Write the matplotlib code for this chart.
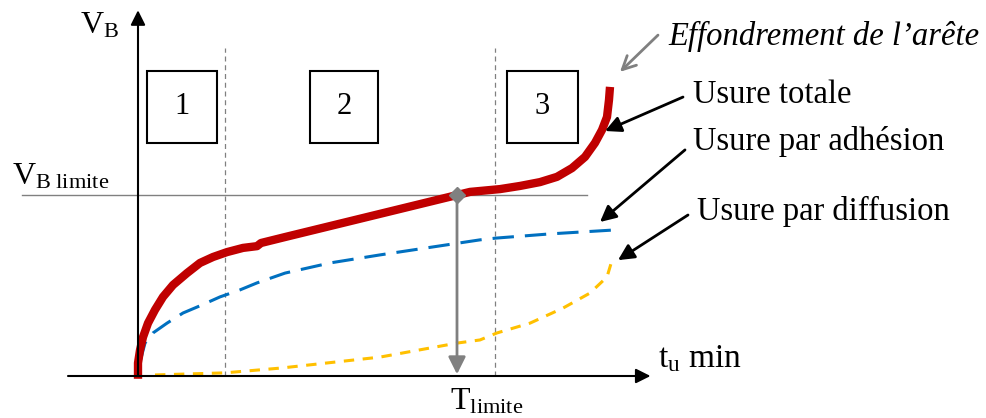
import numpy as np
import matplotlib
matplotlib.use("Agg")
import matplotlib.pyplot as plt
from matplotlib.patches import Rectangle

plt.rcParams['font.family'] = ['Liberation Serif', 'DejaVu Serif']
plt.rcParams['mathtext.fontset'] = 'custom'
plt.rcParams['mathtext.rm'] = 'Liberation Serif'
plt.rcParams['mathtext.it'] = 'Liberation Serif:italic'

# usure totale (t, VB)
t_totale = [0.00, 0.00, 0.04, 0.10, 0.20, 0.34, 0.50, 0.70, 0.98, 1.24, 1.50,
            1.78, 2.10, 2.38, 2.46, 2.94, 6.38, 6.64, 7.24, 7.64, 8.04, 8.38,
            8.68, 8.94, 9.14, 9.28, 9.38, 9.42, 9.44]
vb_totale = [-0.08, 0.37, 0.74, 1.11, 1.51, 1.89, 2.26, 2.60, 2.94, 3.23, 3.40,
             3.54, 3.66, 3.71, 3.80, 3.97, 5.17, 5.26, 5.34, 5.43, 5.54, 5.69,
             5.94, 6.26, 6.66, 7.03, 7.40, 7.89, 8.26]

# usure par adhesion
t_adh = [0.04, 0.14, 0.30, 0.58, 0.90, 1.28, 1.64, 2.04, 2.38, 2.94, 3.84,
         4.84, 6.84, 7.16, 8.24, 9.50]
vb_adh = [0.40, 0.94, 1.23, 1.51, 1.80, 2.03, 2.26, 2.46, 2.66, 2.94, 3.23,
          3.46, 3.89, 3.94, 4.06, 4.17]

# usure par diffusion
t_diff = [0.34, 1.74, 2.88, 4.84, 6.38, 6.84, 7.18, 7.84, 8.50, 9.04, 9.38, 9.50]
vb_diff = [0.03, 0.09, 0.23, 0.54, 0.94, 1.03, 1.23, 1.51, 1.94, 2.37, 2.83, 3.40]

vb_limite = 5.17
t_limite = 6.38
zones = ['1', '2', '3']
zone_bounds = [1.74, 7.14]

red = '#C00000'
blue = '#0070C0'
yellow = '#FFC000'
grey = '#808080'

fig = plt.figure(figsize=(9.86, 4.18), dpi=100)
ax = fig.add_axes([0, 0, 1, 1])
ax.set_xlim(-2.76, 16.96)
ax.set_ylim(-1.2, 376 / 35)
ax.axis('off')

# axes with arrows
ax.annotate('', xy=(10.25, 0), xytext=(-1.4, 0),
            arrowprops=dict(arrowstyle='-|>', color='black', lw=1.5,
                            mutation_scale=22, shrinkA=0, shrinkB=0))
ax.annotate('', xy=(0, 10.45), xytext=(0, 0),
            arrowprops=dict(arrowstyle='-|>', color='black', lw=1.5,
                            mutation_scale=22, shrinkA=0, shrinkB=0))

# VB limite line and zone dividers
ax.plot([-2.32, 8.98], [vb_limite, vb_limite], color=grey, lw=1)
for xb in zone_bounds:
    ax.plot([xb, xb], [0, 9.37], color=grey, lw=0.9, dashes=(4, 3))

# zone boxes
box_x = [(0.18, 1.58), (3.44, 4.80), (7.38, 8.80)]
for lab, (x0, x1) in zip(zones, box_x):
    ax.add_patch(Rectangle((x0, 6.66), x1 - x0, 2.06, fill=False,
                           edgecolor='black', lw=1.5))
    ax.text((x0 + x1) / 2, 7.69, lab, ha='center', va='center', fontsize=22)

# curves
ax.plot(t_diff, vb_diff, color=yellow, lw=2.2, dashes=(3.4, 2.8))
ax.plot(t_adh, vb_adh, color=blue, lw=2.2, dashes=(7, 3.6))
ax.plot(t_totale, vb_totale, color=red, lw=6, solid_capstyle='butt',
        solid_joinstyle='round')

# T limite arrow and marker
ax.annotate('', xy=(t_limite, 0.05), xytext=(t_limite, vb_limite),
            arrowprops=dict(arrowstyle='-|>', color=grey, lw=2,
                            mutation_scale=26, shrinkA=0, shrinkB=0))
ax.plot([t_limite], [vb_limite], marker='D', color=grey, markersize=8)

# labels
ax.text(-1.16, 9.8, r'$\mathrm{V}_{\mathrm{B}}$', fontsize=23, ha='left',
        va='baseline')
ax.text(-2.52, 5.48, r'$\mathrm{V}_{\mathrm{B\ limite}}$', fontsize=23,
        ha='left', va='baseline')
ax.text(6.24, -0.95, r'$\mathrm{T}_{\mathrm{limite}}$', fontsize=23,
        ha='left', va='baseline')
ax.text(10.40, 0.26, r'$\mathrm{t}_{\mathrm{u}}\ \mathrm{min}$', fontsize=24,
        ha='left', va='baseline')

ax.text(10.6, 9.46, 'Effondrement de l\u2019ar\u00eate', fontsize=23.5,
        style='italic', ha='left', va='baseline')
ax.text(11.1, 7.80, 'Usure totale', fontsize=23.5, ha='left', va='baseline')
ax.text(11.1, 6.46, 'Usure par adh\u00e9sion', fontsize=23.5, ha='left',
        va='baseline')
ax.text(11.18, 4.46, 'Usure par diffusion', fontsize=23.5, ha='left',
        va='baseline')

# pointer arrows
ax.annotate('', xy=(9.64, 8.69), xytext=(10.4, 9.74),
            arrowprops=dict(arrowstyle='->', color=grey, lw=2,
                            mutation_scale=24, shrinkA=0, shrinkB=0))
pointers = [((9.34, 7.0), (10.9, 7.97)),
            ((9.24, 4.4), (10.94, 6.46)),
            ((9.6, 3.31), (11.0, 4.6))]
for tip, tail in pointers:
    ax.annotate('', xy=tip, xytext=tail,
                arrowprops=dict(arrowstyle='-|>', color='black', lw=2,
                                mutation_scale=24, shrinkA=0, shrinkB=0))

fig.savefig('out.png', dpi=100)
